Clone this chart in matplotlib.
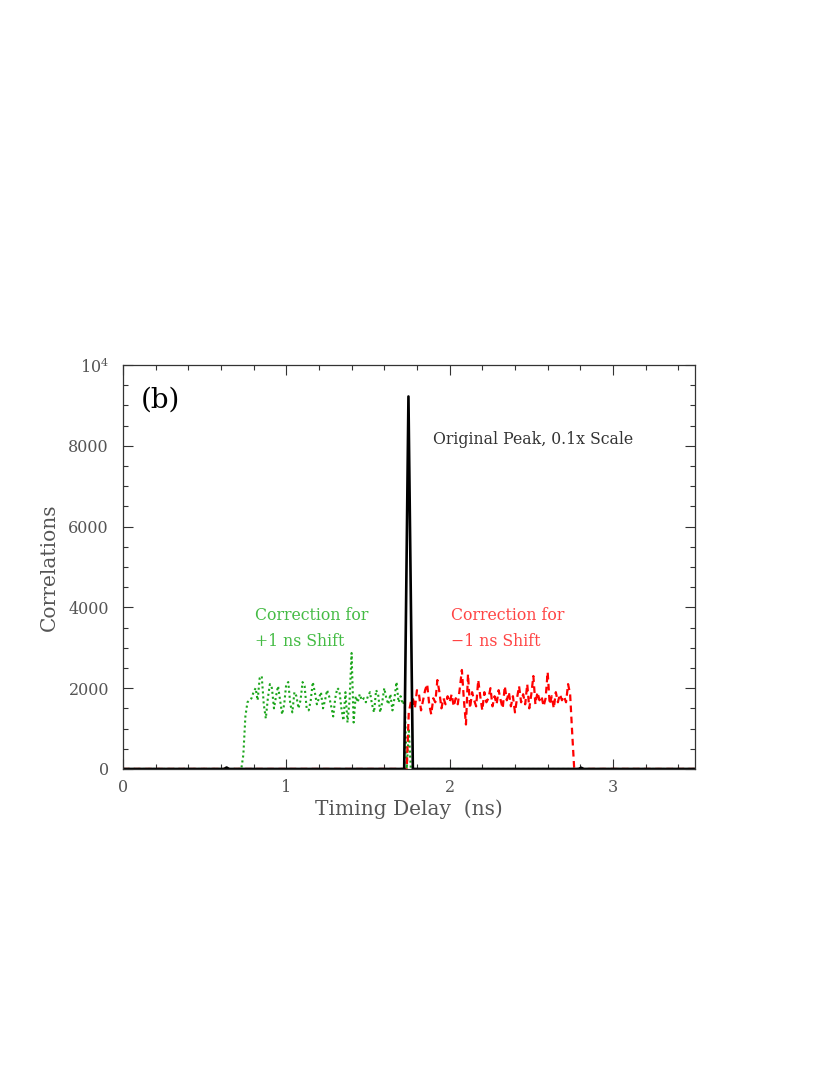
"""Correlation vs timing delay, panel (b): original peak and +/-1 ns shift corrections."""
import numpy as np
import matplotlib.pyplot as plt
from matplotlib.ticker import MultipleLocator, FixedFormatter, FixedLocator

plt.rcParams['font.family'] = ['DejaVu Serif']
plt.rcParams['mathtext.fontset'] = 'dejavuserif'

STEP = 0.0125

# original peak (already scaled by 0.1)
peak_x = [0.0, 0.62, 0.635, 0.65, 1.722, 1.748, 1.775, 2.79, 2.805, 2.82, 3.5]
peak_y = [0, 0, 35, 0, 0, 9220, 0, 0, 30, 0, 0]

# correction for +1 ns shift (green), bins starting at 0.7375 ns
green_start = 0.7375
green_vals = [350, 1300, 1650, 1700, 1750, 1900, 2000, 1700, 2250, 2300,
              1600, 1250, 1750, 2100, 2000, 1500, 1800, 2050, 1700, 1350,
              1600, 2100, 2150, 1600, 1400, 1900, 1800, 1500, 1700, 2150,
              2050, 1500, 1450, 1700, 2150, 1900, 1600, 1750, 1900, 1500,
              1700, 1950, 1800, 1550, 1300, 1750, 2000, 1950, 1500, 1200,
              1900, 1150, 1700, 2870, 1150, 1800, 1650, 1850, 1700, 1750,
              1650, 1800, 1900, 1600, 1400, 1950, 1850, 1400, 1650, 2000,
              1750, 1600, 1850, 1450, 1750, 2150, 1650, 1800, 1600, 1700,
              0, 1000, 0]

# correction for -1 ns shift (red), bins starting at 1.7375 ns
red_start = 1.7375
red_vals = [0, 1400, 1650, 1750, 1500, 1950, 1850, 1450, 1700, 1950,
            2100, 1600, 1350, 1750, 1650, 2200, 1900, 1500, 1750, 1600,
            1800, 1650, 1850, 1550, 1750, 1600, 2000, 2450, 1700, 1100,
            2350, 1500, 1900, 1700, 1550, 2200, 1800, 1450, 1900, 1650,
            1750, 2000, 1550, 1800, 1600, 1950, 1700, 1500, 2050, 1700,
            1900, 1550, 1800, 1400, 1750, 2050, 1650, 1850, 1600, 2100,
            1500, 1850, 2300, 1600, 1900, 1700, 1800, 1550, 1750, 2400,
            1600, 1800, 1500, 1900, 1650, 1850, 1700, 1800, 1650, 2100,
            1850, 900, 0]

green_x = np.concatenate([[0.0, green_start - STEP],
                          green_start + STEP * np.arange(len(green_vals)), [3.5]])
green_y = np.concatenate([[0, 0], green_vals, [0]])
red_x = np.concatenate([[0.0], red_start + STEP * np.arange(len(red_vals)), [3.5]])
red_y = np.concatenate([[0], red_vals, [0]])

fig = plt.figure(figsize=(8.3, 10.75), dpi=100)
ax = fig.add_axes([0.148, 0.2847, 0.689, 0.3758])

ax.plot(green_x, green_y, color='#1aa51a', lw=1.5, linestyle=(0, (1, 1.4)))
ax.plot(red_x, red_y, color='#ff0000', lw=1.6, linestyle=(0, (3, 2)))
ax.plot(peak_x, peak_y, color='black', lw=1.9)

ax.set_xlim(0, 3.5)
ax.set_ylim(0, 10000)

grey = '#555555'
ax.xaxis.set_major_locator(MultipleLocator(1))
ax.xaxis.set_minor_locator(MultipleLocator(0.2))
ax.yaxis.set_major_locator(FixedLocator([0, 2000, 4000, 6000, 8000, 10000]))
ax.yaxis.set_major_formatter(FixedFormatter(['0', '2000', '4000', '6000', '8000',
                                             r'$\mathregular{10^4}$']))
ax.yaxis.set_minor_locator(MultipleLocator(500))
ax.tick_params(which='both', direction='in', top=True, right=True,
               colors='#333333', labelcolor=grey, labelsize=11.5)
ax.tick_params(which='major', length=7, width=0.8)
ax.tick_params(which='minor', length=3.6, width=0.8)
ax.tick_params(axis='x', pad=7)
ax.tick_params(axis='y', pad=10)
for s in ax.spines.values():
    s.set_color('#333333')
    s.set_linewidth(0.9)

ax.set_xlabel('Timing Delay  (ns)', fontsize=14.5, color=grey, labelpad=3)
ax.set_ylabel('Correlations', fontsize=14.5, color=grey, labelpad=7)

ax.text(0.11, 9130, '(b)', fontsize=20, color='black', va='center', ha='left')
ax.text(1.90, 8150, 'Original Peak, 0.1x Scale', fontsize=11.3, color='#333333',
        va='center', ha='left')
ax.text(0.808, 3800, 'Correction for', fontsize=11.3, color='#44bb44', va='center')
ax.text(0.808, 3160, '+1 ns Shift', fontsize=11.3, color='#44bb44', va='center')
ax.text(2.007, 3800, 'Correction for', fontsize=11.3, color='#ff4444', va='center')
ax.text(2.007, 3160, '\u22121 ns Shift', fontsize=11.3, color='#ff4444', va='center')

fig.savefig('out.png', dpi=100)
